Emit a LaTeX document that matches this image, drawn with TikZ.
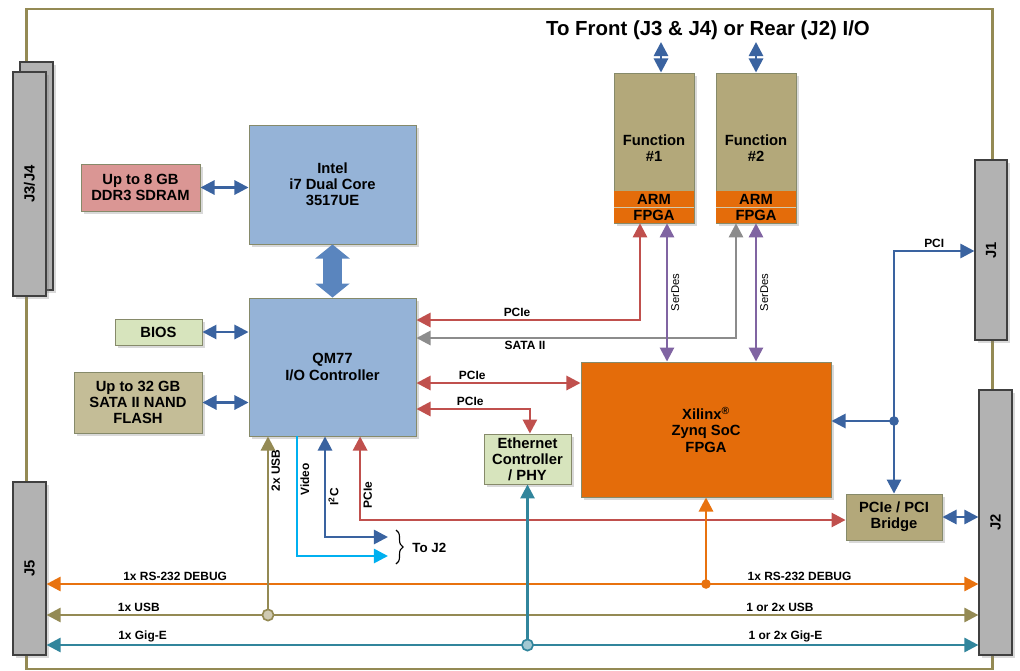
\documentclass[tikz,border=0pt]{standalone}
\usepackage{fontspec}
\setmainfont{Liberation Sans}
\usepackage{graphicx}
\usetikzlibrary{arrows.meta, positioning, shadows, decorations.pathreplacing}

\definecolor{boardline}{HTML}{948A54}
\definecolor{conngray}{HTML}{B2B2B2}
\definecolor{boxedge}{HTML}{868A6A}
\definecolor{cpublue}{HTML}{95B3D7}
\definecolor{ddrpink}{HTML}{DA9694}
\definecolor{biosgreen}{HTML}{D7E4BD}
\definecolor{nandtan}{HTML}{C4BD97}
\definecolor{funtan}{HTML}{B3A87A}
\definecolor{zynqorange}{HTML}{E46C0A}
\definecolor{arrowblue}{HTML}{3A63A0}
\definecolor{bigblue}{HTML}{5A85BE}
\definecolor{pciered}{HTML}{C0504D}
\definecolor{satagray}{HTML}{8C8C8C}
\definecolor{serdespurple}{HTML}{8064A2}
\definecolor{gigeteal}{HTML}{31859C}
\definecolor{videocyan}{HTML}{00B0F0}
\definecolor{rsorange}{HTML}{E8720F}

\begin{document}
\begin{tikzpicture}[
    x=0.025cm, y=-0.025cm,
    >={Triangle[length=10pt,width=10pt]},
    shade/.style={drop shadow={shadow xshift=2pt, shadow yshift=-2pt, opacity=0.3}},
    board/.style={draw=boardline, line width=2pt, inner sep=0pt},
    box/.style={draw=boxedge, line width=0.6pt, inner sep=0pt, align=center, shade,
        font=\fontsize{10.5}{11.5}\selectfont\bfseries},
    jconn/.style={box, draw=black!75, fill=conngray, line width=0.8pt},
    band/.style={fill=zynqorange, inner sep=0pt, minimum width=2cm, minimum height=0.4cm,
        font=\fontsize{10.5}{11.5}\selectfont\bfseries},
    lbl/.style={font=\fontsize{8.5}{10}\selectfont\bfseries, inner sep=1.5pt},
    serlbl/.style={font=\fontsize{8}{9}\selectfont, inner sep=2pt},
    conn/.style={line width=1.9pt},
    blueconn/.style={conn, draw=arrowblue},
    pcie/.style={conn, draw=pciered},
    sata/.style={conn, draw=satagray},
    serdes/.style={conn, draw=serdespurple},
    pci/.style={conn, draw=arrowblue},
    usb/.style={conn, draw=boardline},
    gige/.style={conn, draw=gigeteal},
    rs/.style={conn, draw=rsorange},
    video/.style={conn, draw=videocyan},
    iic/.style={conn, draw=arrowblue},
    bigarrow/.style={line width=14pt, draw=bigblue,
        {Triangle[length=10pt,width=24pt]}-{Triangle[length=10pt,width=24pt]}}
]
\useasboundingbox (0,0) rectangle (1020,671);

% board and connectors
\node[board, minimum width=24.125cm, minimum height=16.5cm] (board) at (509.5,339) {};
\node[jconn, minimum width=0.825cm, minimum height=5.7cm] (j34b) at (36.5,176) {};
\node[jconn, minimum width=0.825cm, minimum height=5.6cm] (j34) at (29.5,184) {\rotatebox{90}{J3/J4}};
\node[jconn, minimum width=0.8cm, minimum height=4.5cm] (j1) at (991,250) {\rotatebox{90}{J1}};
\node[jconn, minimum width=0.825cm, minimum height=6.625cm] (j2) at (995.5,522.5) {\rotatebox{90}{J2}};
\node[jconn, minimum width=0.825cm, minimum height=4.325cm] (j5) at (29.5,568.5) {\rotatebox{90}{J5}};

% processor side
\node[box, fill=ddrpink, minimum width=2.975cm, minimum height=1.175cm] (ddr) at (140.5,187.5) {Up to 8 GB\\DDR3 SDRAM};
\node[box, fill=cpublue, minimum width=4.175cm, minimum height=2.975cm] (intel) at (332.5,184.5) {Intel\\i7 Dual Core\\3517UE};
\node[box, fill=cpublue, minimum width=4.175cm, minimum height=3.45cm] (qm77) at (332.5,367) {QM77\\I/O Controller};
\node[box, fill=biosgreen, minimum width=2.175cm, minimum height=0.65cm] (bios) at (158.5,332) {BIOS};
\node[box, fill=nandtan, minimum width=3.2cm, minimum height=1.525cm] (nand) at (138,402.5) {Up to 32 GB\\SATA II NAND\\FLASH};

% function modules
\node[font=\fontsize{14.5}{17}\selectfont\bfseries] (title) at (708,30) {To Front (J3 \& J4) or Rear (J2) I/O};
\node[box, fill=funtan, minimum width=2cm, minimum height=3.75cm] (fun1) at (654,148) {Function\\\#1};
\node[band] (arm1) at (654,199) {ARM};
\node[band] (fpga1) at (654,215) {FPGA};
\node[box, fill=funtan, minimum width=2cm, minimum height=3.75cm] (fun2) at (756,148) {Function\\\#2};
\node[band] (arm2) at (756,199) {ARM};
\node[band] (fpga2) at (756,215) {FPGA};
\draw[funtan!60, line width=1pt] (arm1.south west) -- (arm1.south east);
\draw[funtan!60, line width=1pt] (arm2.south west) -- (arm2.south east);

% FPGA side
\node[box, fill=zynqorange, minimum width=6.25cm, minimum height=3.375cm] (zynq) at (706,429.5) {Xilinx\textsuperscript{®}\\Zynq SoC\\FPGA};
\node[box, fill=biosgreen, minimum width=2.175cm, minimum height=1.25cm] (eth) at (527.5,459) {Ethernet\\Controller\\/ PHY};
\node[box, fill=funtan, minimum width=2.4cm, minimum height=1.15cm] (bridge) at (894,517) {PCIe / PCI\\Bridge};

% host links
\draw[bigarrow] (intel.south) -- (qm77.north);
\draw[blueconn, <->] (ddr.east) -- (ddr.east -| intel.west);
\draw[blueconn, <->] (bios.east) -- (bios.east -| qm77.west);
\draw[blueconn, <->] (nand.east) -- (nand.east -| qm77.west);
\draw[blueconn, <->] ([xshift=0.175cm]fun1.north) -- ([xshift=0.175cm]fun1.north |- 0,42);
\draw[blueconn, <->] (fun2.north) -- (fun2.north |- 0,42);

% PCIe / SATA / SerDes
\draw[pcie, <->] (qm77.east |- 0,320) -| node[lbl, above, pos=0.225] {PCIe} ([xshift=-0.35cm]fpga1.south);
\draw[sata, <->] (qm77.east |- 0,338) -| node[lbl, below, pos=0.17] {SATA II} ([xshift=-0.5cm]fpga2.south);
\draw[serdes, <->] ([xshift=0.325cm]fpga1.south) -- node[serlbl, rotate=90, anchor=north] {SerDes} ([xshift=0.325cm]fpga1.south |- zynq.north);
\draw[serdes, <->] (fpga2.south) -- node[serlbl, rotate=90, anchor=north] {SerDes} (fpga2.south |- zynq.north);
\draw[pcie, <->] (qm77.east |- 0,383) -- node[lbl, above, pos=0.34] {PCIe} (zynq.west |- 0,383);
\draw[pcie, <->] (qm77.east |- 0,409) -| node[lbl, above, pos=0.237] {PCIe} ([xshift=0.06cm]eth.north);
\draw[pcie, <->] ([xshift=0.69cm]qm77.south) |- node[lbl, rotate=90, anchor=north, pos=0.35] {PCIe} (bridge.west |- 0,520);

% PCI
\coordinate (pcijn) at (bridge.north |- 0,421);
\draw[pci, <->] (j1.west |- 0,251) -| node[lbl, above, pos=0.25] {PCI} (bridge.north);
\draw[pci, ->] (pcijn) -- (zynq.east |- pcijn);
\fill[arrowblue] (pcijn) circle (0.12cm);
\draw[pci, <->] (bridge.east) -- (bridge.east -| j2.west);

% video and I2C to J2
\coordinate (toj2a) at (388,537);
\coordinate (toj2b) at (388,556);
\draw[video, ->] ([xshift=-0.8875cm]qm77.south) |- node[lbl, rotate=90, anchor=north, pos=0.18] {Video} (toj2b);
\draw[iic, <->] ([xshift=-0.1875cm]qm77.south) |- node[lbl, rotate=90, anchor=north, pos=0.3] {I\textsuperscript{2}C} (toj2a);
\draw[decorate, decoration={brace, amplitude=5pt}, line width=0.8pt] (396,530) -- (396,564);
\node[lbl, font=\fontsize{9.5}{11}\selectfont\bfseries, anchor=west] (toj2) at (410,548) {To J2};

% rear buses
\coordinate (usbjn) at ([xshift=-1.6125cm]qm77.south |- 0,615);
\coordinate (rsjn) at (zynq.south |- 0,584);
\coordinate (gigejn) at (eth.south |- 0,645);
\draw[rs, <->] (j5.east |- 0,584) -- node[lbl, above, pos=0.138] {1x RS-232 DEBUG} node[lbl, above, pos=0.808] {1x RS-232 DEBUG} (j2.west |- 0,584);
\draw[usb, <->] (j5.east |- 0,615) -- node[lbl, above, pos=0.099] {1x USB} node[lbl, above, pos=0.787] {1 or 2x USB} (j2.west |- 0,615);
\draw[gige, <->] (j5.east |- 0,645) -- node[lbl, above, pos=0.103] {1x Gig-E} node[lbl, above, pos=0.793] {1 or 2x Gig-E} (j2.west |- 0,645);
\draw[usb, ->] (usbjn) -- node[lbl, rotate=90, anchor=north, pos=0.81] {2x USB} ([xshift=-1.6125cm]qm77.south);
\draw[rs, ->] (rsjn) -- (zynq.south);
\fill[rsorange] (rsjn) circle (0.12cm);
\draw[gige, ->] (gigejn) -- (eth.south);
\draw[boardline, line width=1.2pt, fill=boardline!45] (usbjn) circle (0.14cm);
\draw[gigeteal, line width=1.2pt, fill=gigeteal!45] (gigejn) circle (0.14cm);

\end{tikzpicture}
\end{document}
